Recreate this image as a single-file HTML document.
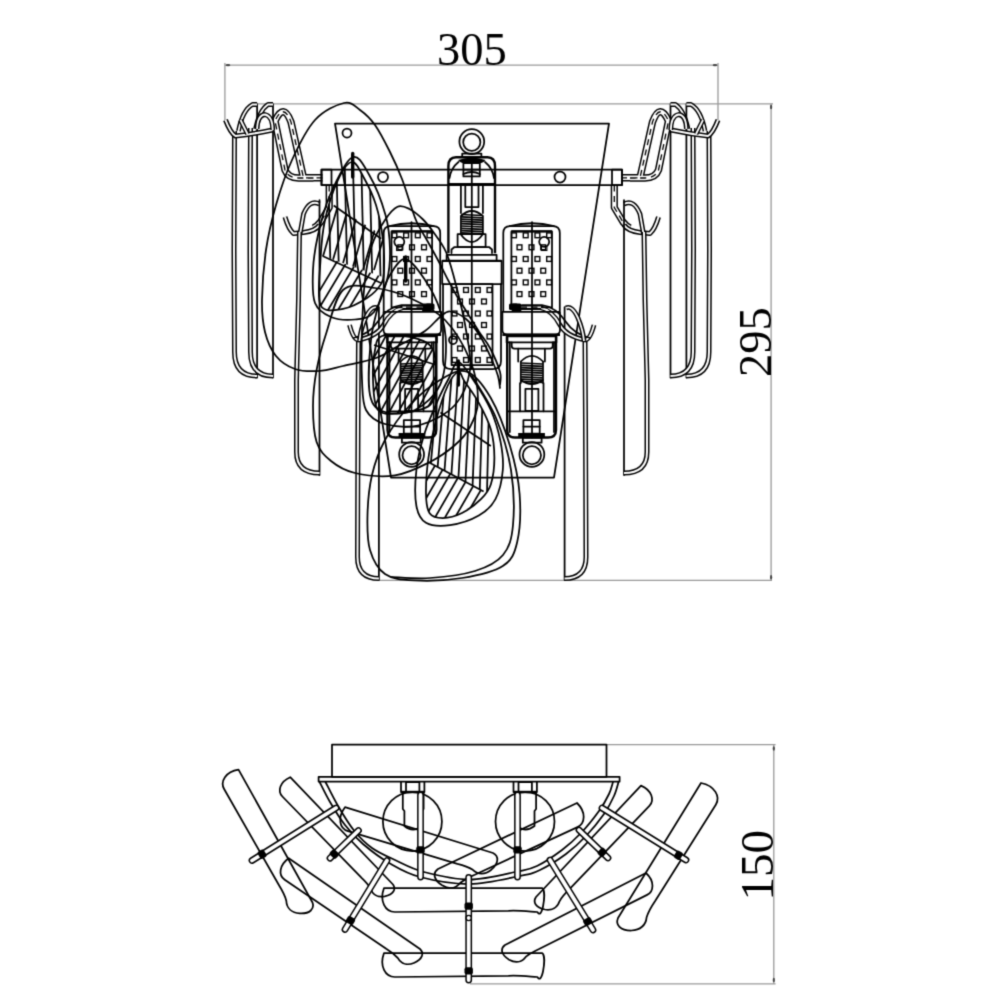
<!DOCTYPE html>
<html><head><meta charset="utf-8"><title>Wall lamp drawing</title>
<style>
html,body{margin:0;padding:0;background:#fff;}
svg{display:block;}
.k{fill:none;stroke:#000;stroke-width:1.75;stroke-linejoin:round;stroke-linecap:round;}
.kt{fill:none;stroke:#000;stroke-width:1.1;}
.kb{fill:none;stroke:#000;stroke-width:2.4;}
.g{fill:none;stroke:#999;stroke-width:1.3;}
.tb{fill:none;stroke:#000;stroke-linecap:butt;stroke-linejoin:round;}
.tw{fill:none;stroke:#fff;stroke-linecap:butt;stroke-linejoin:round;}
.td{fill:none;stroke:#000;stroke-width:1.3;stroke-dasharray:6 4.5;}
.fk{fill:#000;stroke:none;}
.ks{fill:none;stroke:#000;stroke-width:1.4;}
.km{fill:none;stroke:#000;stroke-width:1.75;}
.kh{fill:none;stroke:#000;stroke-width:1.75;}
.pin{fill:none;stroke:#000;stroke-width:3.4;stroke-linecap:round;}
.kc{fill:none;stroke:#000;stroke-width:1.75;stroke-linejoin:round;}
.rb{stroke:#000;stroke-width:6.8;stroke-linecap:round;}
.rw{stroke:#fff;stroke-width:3.8;stroke-linecap:round;}
.fw{fill:#fff;stroke:#000;stroke-width:1.3;}
text{font-family:"Liberation Serif",serif;fill:#000;}
</style></head><body>
<svg width="1000" height="1000" viewBox="0 0 1000 1000">
<defs><filter id="soft" x="0" y="0" width="1000" height="1000" filterUnits="userSpaceOnUse" color-interpolation-filters="sRGB"><feConvolveMatrix order="3" kernelMatrix="1 5 1 5 22 5 1 5 1" divisor="46" edgeMode="duplicate"/></filter></defs>
<g filter="url(#soft)">
<rect x="0" y="0" width="1000" height="1000" fill="#fff"/>
<line class="g" x1="224.9" y1="65.2" x2="718" y2="65.2"/>
<line class="g" x1="224.9" y1="63" x2="224.9" y2="120"/>
<line class="g" x1="718" y1="63" x2="718" y2="120"/>
<line class="g" x1="257" y1="103.8" x2="773" y2="103.8"/>
<line class="g" x1="771.1" y1="103.8" x2="771.1" y2="580.3"/>
<line class="g" x1="379" y1="580.3" x2="772" y2="580.3"/>
<text x="437" y="65.2" font-size="46.5">305</text>
<text transform="translate(770.5,377) rotate(-90)" font-size="46.5">295</text>
<line class="g" x1="606" y1="744.6" x2="775.6" y2="744.6"/>
<line class="g" x1="773.8" y1="744.6" x2="773.8" y2="983.8"/>
<line class="g" x1="470" y1="983.8" x2="775.6" y2="983.8"/>
<text transform="translate(772.5,900.5) rotate(-90)" font-size="47">150</text>
<ellipse cx="228" cy="65.2" rx="2.3" ry="1.1" fill="#444"/>
<ellipse cx="715" cy="65.2" rx="2.3" ry="1.1" fill="#444"/>
<ellipse cx="771.1" cy="107" rx="1.1" ry="2.3" fill="#444"/>
<ellipse cx="771.1" cy="577.3" rx="1.1" ry="2.3" fill="#444"/>
<ellipse cx="773.8" cy="748.5" rx="1.1" ry="2.3" fill="#444"/>
<ellipse cx="773.8" cy="980" rx="1.1" ry="2.3" fill="#444"/>
<path class="k" d="M335,123.5 L609,123.5 L554,477.5 L391,477.5 Z" />
<circle class="k" cx="347" cy="133" r="4.5"/>
<g id="sideR">
<path class="tb" d="M621,177.8 L640,177.8 L652.5,122 Q660,102 668.5,121 L658.5,170 Q655.5,178 645,178 L630,178" style="stroke-width:7.4"/>
<path class="tw" d="M621,177.8 L640,177.8 L652.5,122 Q660,102 668.5,121 L658.5,170 Q655.5,178 645,178 L630,178" style="stroke-width:4.4"/>
<path class="td" d="M621,177.8 L640,177.8 L652.5,122 Q660,102 668.5,121 L658.5,170 Q655.5,178 645,178 L630,178"/>
<path class="tb" d="M614.3,185.5 L614.3,207.5 L623,222 Q626,226 630,228" style="stroke-width:7.2"/>
<path class="tw" d="M614.3,185.5 L614.3,207.5 L623,222 Q626,226 630,228" style="stroke-width:4.2"/>
<path class="td" d="M614.3,185.5 L614.3,207.5 L623,222 Q626,226 630,228"/>
<path class="tb" d="M624,225 Q628,231 640,232.5 L650,233.5 Q655,229 658.5,217" style="stroke-width:5.0"/>
<path class="tw" d="M624,225 Q628,231 640,232.5 L650,233.5 Q655,229 658.5,217" style="stroke-width:2.0"/>
<path class="tb" d="M624,204 Q634,199 640,214 L643.5,234" style="stroke-width:4.8"/>
<path class="tw" d="M624,204 Q634,199 640,214 L643.5,234" style="stroke-width:1.7999999999999998"/>
<line class="k" x1="670.5" y1="104" x2="670.5" y2="377.6"/>
<line class="k" x1="686.4" y1="104" x2="686.4" y2="377.6"/>
<path class="tb" d="M693,128 L693.5,250 L693,352 Q693,376 670.5,376" style="stroke-width:5.0"/>
<path class="tw" d="M693,128 L693.5,250 L693,352 Q693,376 670.5,376" style="stroke-width:2.0"/>
<path class="tb" d="M709,131 L709.5,250 L709,352 Q709,376 686.4,376" style="stroke-width:5.0"/>
<path class="tw" d="M709,131 L709.5,250 L709,352 Q709,376 686.4,376" style="stroke-width:2.0"/>
<path class="tb" d="M670.5,104.5 L675.5,104.5 Q684,110 688,129" style="stroke-width:4.8"/>
<path class="tw" d="M670.5,104.5 L675.5,104.5 Q684,110 688,129" style="stroke-width:1.7999999999999998"/>
<path class="tb" d="M686.4,104.5 L691,104.5 Q701,110 705,131" style="stroke-width:4.8"/>
<path class="tw" d="M686.4,104.5 L691,104.5 Q701,110 705,131" style="stroke-width:1.7999999999999998"/>
<path class="tb" d="M671,130 Q690,134 708,136 Q713,133 718,120" style="stroke-width:5.0"/>
<path class="tw" d="M671,130 Q690,134 708,136 Q713,133 718,120" style="stroke-width:2.0"/>
<path class="tb" d="M670.8,130 Q671,116 678.5,114.5 Q686,115 686.4,129" style="stroke-width:4.8"/>
<path class="tw" d="M670.8,130 Q671,116 678.5,114.5 Q686,115 686.4,129" style="stroke-width:1.7999999999999998"/>
<path class="tb" d="M696,134 L703,120" style="stroke-width:4.8"/>
<path class="tw" d="M696,134 L703,120" style="stroke-width:1.7999999999999998"/>
<line class="k" x1="624" y1="200" x2="624" y2="475"/>
<path class="tb" d="M644,232 L645,300 L647,380 L647,452 Q647,473 624,473" style="stroke-width:5.0"/>
<path class="tw" d="M644,232 L645,300 L647,380 L647,452 Q647,473 624,473" style="stroke-width:2.0"/>
<line class="k" x1="564.6" y1="307" x2="564.6" y2="580"/>
<path class="tb" d="M585,340 L585.5,420 L586,557 Q586,578.5 564.6,578.5" style="stroke-width:5.0"/>
<path class="tw" d="M585,340 L585.5,420 L586,557 Q586,578.5 564.6,578.5" style="stroke-width:2.0"/>
<path class="tb" d="M520,307.5 L540,307.5 Q552,310 560,325 Q566,336 585,340 Q590,340 594,325" style="stroke-width:4.8"/>
<path class="tw" d="M520,307.5 L540,307.5 Q552,310 560,325 Q566,336 585,340 Q590,340 594,325" style="stroke-width:1.7999999999999998"/>
<path class="k" d="M522,305 L542,305 Q556,307 566,322 Q574,334 590,338" />
<rect class="fk" x="509" y="303.5" width="9" height="6.5" rx="1.5"/>
<path class="tb" d="M566,308 Q572,305 578,318 Q583,330 584,341" style="stroke-width:4.8"/>
<path class="tw" d="M566,308 Q572,305 578,318 Q583,330 584,341" style="stroke-width:1.7999999999999998"/>
</g>
<g transform="translate(943.5,0) scale(-1,1)">
<path class="tb" d="M621,177.8 L640,177.8 L652.5,122 Q660,102 668.5,121 L658.5,170 Q655.5,178 645,178 L630,178" style="stroke-width:7.4"/>
<path class="tw" d="M621,177.8 L640,177.8 L652.5,122 Q660,102 668.5,121 L658.5,170 Q655.5,178 645,178 L630,178" style="stroke-width:4.4"/>
<path class="td" d="M621,177.8 L640,177.8 L652.5,122 Q660,102 668.5,121 L658.5,170 Q655.5,178 645,178 L630,178"/>
<path class="tb" d="M614.3,185.5 L614.3,207.5 L623,222 Q626,226 630,228" style="stroke-width:7.2"/>
<path class="tw" d="M614.3,185.5 L614.3,207.5 L623,222 Q626,226 630,228" style="stroke-width:4.2"/>
<path class="td" d="M614.3,185.5 L614.3,207.5 L623,222 Q626,226 630,228"/>
<path class="tb" d="M624,225 Q628,231 640,232.5 L650,233.5 Q655,229 658.5,217" style="stroke-width:5.0"/>
<path class="tw" d="M624,225 Q628,231 640,232.5 L650,233.5 Q655,229 658.5,217" style="stroke-width:2.0"/>
<path class="tb" d="M624,204 Q634,199 640,214 L643.5,234" style="stroke-width:4.8"/>
<path class="tw" d="M624,204 Q634,199 640,214 L643.5,234" style="stroke-width:1.7999999999999998"/>
<line class="k" x1="670.5" y1="104" x2="670.5" y2="377.6"/>
<line class="k" x1="686.4" y1="104" x2="686.4" y2="377.6"/>
<path class="tb" d="M693,128 L693.5,250 L693,352 Q693,376 670.5,376" style="stroke-width:5.0"/>
<path class="tw" d="M693,128 L693.5,250 L693,352 Q693,376 670.5,376" style="stroke-width:2.0"/>
<path class="tb" d="M709,131 L709.5,250 L709,352 Q709,376 686.4,376" style="stroke-width:5.0"/>
<path class="tw" d="M709,131 L709.5,250 L709,352 Q709,376 686.4,376" style="stroke-width:2.0"/>
<path class="tb" d="M670.5,104.5 L675.5,104.5 Q684,110 688,129" style="stroke-width:4.8"/>
<path class="tw" d="M670.5,104.5 L675.5,104.5 Q684,110 688,129" style="stroke-width:1.7999999999999998"/>
<path class="tb" d="M686.4,104.5 L691,104.5 Q701,110 705,131" style="stroke-width:4.8"/>
<path class="tw" d="M686.4,104.5 L691,104.5 Q701,110 705,131" style="stroke-width:1.7999999999999998"/>
<path class="tb" d="M671,130 Q690,134 708,136 Q713,133 718,120" style="stroke-width:5.0"/>
<path class="tw" d="M671,130 Q690,134 708,136 Q713,133 718,120" style="stroke-width:2.0"/>
<path class="tb" d="M670.8,130 Q671,116 678.5,114.5 Q686,115 686.4,129" style="stroke-width:4.8"/>
<path class="tw" d="M670.8,130 Q671,116 678.5,114.5 Q686,115 686.4,129" style="stroke-width:1.7999999999999998"/>
<path class="tb" d="M696,134 L703,120" style="stroke-width:4.8"/>
<path class="tw" d="M696,134 L703,120" style="stroke-width:1.7999999999999998"/>
<line class="k" x1="624" y1="200" x2="624" y2="475"/>
<path class="tb" d="M644,232 L645,300 L647,380 L647,452 Q647,473 624,473" style="stroke-width:5.0"/>
<path class="tw" d="M644,232 L645,300 L647,380 L647,452 Q647,473 624,473" style="stroke-width:2.0"/>
<line class="k" x1="564.6" y1="307" x2="564.6" y2="580"/>
<path class="tb" d="M585,340 L585.5,420 L586,557 Q586,578.5 564.6,578.5" style="stroke-width:5.0"/>
<path class="tw" d="M585,340 L585.5,420 L586,557 Q586,578.5 564.6,578.5" style="stroke-width:2.0"/>
<path class="tb" d="M520,307.5 L540,307.5 Q552,310 560,325 Q566,336 585,340 Q590,340 594,325" style="stroke-width:4.8"/>
<path class="tw" d="M520,307.5 L540,307.5 Q552,310 560,325 Q566,336 585,340 Q590,340 594,325" style="stroke-width:1.7999999999999998"/>
<path class="k" d="M522,305 L542,305 Q556,307 566,322 Q574,334 590,338" />
<rect class="fk" x="509" y="303.5" width="9" height="6.5" rx="1.5"/>
<path class="tb" d="M566,308 Q572,305 578,318 Q583,330 584,341" style="stroke-width:4.8"/>
<path class="tw" d="M566,308 Q572,305 578,318 Q583,330 584,341" style="stroke-width:1.7999999999999998"/>
</g>
<rect class="k" x="321.5" y="169.5" width="300.5" height="15.5"/>
<rect class="k" x="321.5" y="169.5" width="10" height="15.5"/>
<rect class="k" x="612" y="169.5" width="10" height="15.5"/>
<circle class="k" cx="383" cy="177" r="5"/>
<circle class="k" cx="560" cy="177" r="5.5"/>
<circle class="k" cx="471.8" cy="141.6" r="12.4"/>
<circle class="k" cx="471.8" cy="142.2" r="8.6"/>
<rect class="k" x="462.2" y="153.6" width="19.2" height="3.4"/>
<path class="kb" d="M448.4,253.2 L448.4,166 Q448.4,157.2 456,157.2 L487.5,157.2 Q495,157.2 495,166 L495,253.2" />
<path class="fk" d="M458.2,160 Q471.8,155 485.4,160 Q484,164 471.8,164 Q459.6,164 458.2,160Z"/>
<path class="k" d="M458.5,162 Q451,168 449.5,178 M485,162 Q492.5,168 494,178" />
<rect class="k" x="463.4" y="163" width="16.4" height="13.4"/>
<line class="k" x1="463.4" y1="169.5" x2="479.8" y2="169.5"/>
<line class="k" x1="471.8" y1="163" x2="471.8" y2="176.4"/>
<path class="k" d="M463.4,174 Q471.8,170 479.8,174" />
<line class="kb" x1="448.4" y1="184.3" x2="495" y2="184.3"/>
<line class="k" x1="460.9" y1="185" x2="460.9" y2="213"/>
<line class="k" x1="482.9" y1="185" x2="482.9" y2="213"/>
<rect class="k" x="465.3" y="185" width="13.2" height="22"/>
<path class="k" d="M460.9,234 L460.9,216 Q471.8,206 482.9,216 L482.9,234" />
<line class="kc" x1="461.3" y1="214.5" x2="482.5" y2="215.5"/>
<line class="kc" x1="461.3" y1="216.8" x2="482.5" y2="217.8"/>
<line class="kc" x1="461.3" y1="219.1" x2="482.5" y2="220.1"/>
<line class="kc" x1="461.3" y1="221.4" x2="482.5" y2="222.4"/>
<line class="kc" x1="461.3" y1="223.7" x2="482.5" y2="224.7"/>
<line class="kc" x1="461.3" y1="226" x2="482.5" y2="227"/>
<line class="kc" x1="461.3" y1="228.3" x2="482.5" y2="229.3"/>
<line class="kc" x1="461.3" y1="230.6" x2="482.5" y2="231.6"/>
<line class="kc" x1="461.3" y1="232.9" x2="482.5" y2="233.9"/>
<rect class="k" x="457.6" y="234" width="28" height="13"/>
<path class="k" d="M460.5,234 Q471.8,250 483,234" />
<path class="k" d="M451.5,253 L451.5,249.5 L454.5,247 L489,247 L492,249.5 L492,253" />
<rect class="k" x="446.6" y="254.8" width="50" height="6.1"/>
<line class="kb" x1="442.2" y1="260.9" x2="501.6" y2="260.9"/>
<rect class="k" x="442.2" y="260.9" width="59.4" height="23.1"/>
<path class="k" d="M443,284 L443,361 Q443,369 451,369 L493,369 Q501,369 501,361 L501,284" />
<rect class="k" x="451.5" y="284" width="41" height="81"/>
<rect class="ks" x="452.1" y="287.6" width="4.8" height="4.8"/>
<rect class="ks" x="463.6" y="287.6" width="4.8" height="4.8"/>
<rect class="ks" x="475.4" y="287.6" width="4.8" height="4.8"/>
<rect class="ks" x="487.1" y="287.6" width="4.8" height="4.8"/>
<rect class="ks" x="457.6" y="299.1" width="4.8" height="4.8"/>
<rect class="ks" x="469.6" y="299.1" width="4.8" height="4.8"/>
<rect class="ks" x="481.6" y="299.1" width="4.8" height="4.8"/>
<rect class="ks" x="452.1" y="311.1" width="4.8" height="4.8"/>
<rect class="ks" x="463.6" y="311.1" width="4.8" height="4.8"/>
<rect class="ks" x="475.4" y="311.1" width="4.8" height="4.8"/>
<rect class="ks" x="487.1" y="311.1" width="4.8" height="4.8"/>
<rect class="ks" x="457.6" y="322.6" width="4.8" height="4.8"/>
<rect class="ks" x="469.6" y="322.6" width="4.8" height="4.8"/>
<rect class="ks" x="481.6" y="322.6" width="4.8" height="4.8"/>
<rect class="ks" x="452.1" y="334.1" width="4.8" height="4.8"/>
<rect class="ks" x="463.6" y="334.1" width="4.8" height="4.8"/>
<rect class="ks" x="475.4" y="334.1" width="4.8" height="4.8"/>
<rect class="ks" x="487.1" y="334.1" width="4.8" height="4.8"/>
<rect class="ks" x="457.6" y="346.1" width="4.8" height="4.8"/>
<rect class="ks" x="469.6" y="346.1" width="4.8" height="4.8"/>
<rect class="ks" x="481.6" y="346.1" width="4.8" height="4.8"/>
<rect class="ks" x="452.1" y="357.6" width="4.8" height="4.8"/>
<rect class="ks" x="463.6" y="357.6" width="4.8" height="4.8"/>
<rect class="ks" x="475.4" y="357.6" width="4.8" height="4.8"/>
<rect class="ks" x="487.1" y="357.6" width="4.8" height="4.8"/>
<circle class="k" cx="453" cy="340" r="4"/>
<line class="k" x1="471.8" y1="176.4" x2="471.8" y2="369"/>
<g>
<path class="km" d="M503.3,311 L503.3,233 Q503.3,226 510,226 L553,226 Q559.8,226 559.8,233 L559.8,311" />
<path class="k" d="M509.8,226 Q531.9,220.5 554,226" />
<rect class="k" x="511.4" y="231.4" width="40.6" height="76"/>
<line class="kb" x1="511.4" y1="231.4" x2="552" y2="231.4"/>
<rect class="ks" x="511.6" y="232.9" width="4.8" height="4.8"/>
<rect class="ks" x="523.3" y="232.9" width="4.8" height="4.8"/>
<rect class="ks" x="535" y="232.9" width="4.8" height="4.8"/>
<rect class="ks" x="546.7" y="232.9" width="4.8" height="4.8"/>
<rect class="ks" x="517.1" y="244.9" width="4.8" height="4.8"/>
<rect class="ks" x="529.1" y="244.9" width="4.8" height="4.8"/>
<rect class="ks" x="540.8" y="244.9" width="4.8" height="4.8"/>
<rect class="ks" x="511.6" y="256.6" width="4.8" height="4.8"/>
<rect class="ks" x="523.3" y="256.6" width="4.8" height="4.8"/>
<rect class="ks" x="535" y="256.6" width="4.8" height="4.8"/>
<rect class="ks" x="546.7" y="256.6" width="4.8" height="4.8"/>
<rect class="ks" x="517.1" y="268.3" width="4.8" height="4.8"/>
<rect class="ks" x="529.1" y="268.3" width="4.8" height="4.8"/>
<rect class="ks" x="540.8" y="268.3" width="4.8" height="4.8"/>
<rect class="ks" x="511.6" y="280" width="4.8" height="4.8"/>
<rect class="ks" x="523.3" y="280" width="4.8" height="4.8"/>
<rect class="ks" x="535" y="280" width="4.8" height="4.8"/>
<rect class="ks" x="546.7" y="280" width="4.8" height="4.8"/>
<rect class="ks" x="517.1" y="291.7" width="4.8" height="4.8"/>
<rect class="ks" x="529.1" y="291.7" width="4.8" height="4.8"/>
<rect class="ks" x="540.8" y="291.7" width="4.8" height="4.8"/>
<circle class="k" cx="544.2" cy="241.8" r="5"/>
<rect class="kt" x="541.5" y="246.5" width="5.4" height="4"/>
<rect class="fk" x="511.4" y="303.4" width="10.2" height="8.4" rx="2"/>
<path class="tb" d="M521,307.2 L541,307.2" style="stroke-width:4.4"/>
<path class="tw" d="M521,307.2 L541,307.2" style="stroke-width:1.4000000000000004"/>
<path class="td" d="M521,307.2 L541,307.2"/>
<path class="k" d="M502.4,311.8 L560,311.8 L560,330 Q560,334.6 555,334.6 L507.5,334.6 Q502.4,334.6 502.4,330 Z" />
<line class="kb" x1="502.4" y1="334.8" x2="560" y2="334.8"/>
<path class="kb" d="M507.2,336 L507.2,430 Q507.2,437.5 515,437.5 L548,437.5 Q556,437.5 556,430 L556,336" />
<line class="k" x1="509.8" y1="342" x2="509.8" y2="432"/>
<line class="k" x1="554" y1="342" x2="554" y2="432"/>
<rect class="k" x="506.6" y="336.4" width="49.8" height="6"/>
<path class="k" d="M511.7,342.4 L511.7,346 Q511.7,348.5 514.5,348.5 L550,348.5 Q552.7,348.5 552.7,346 L552.7,342.4" />
<path class="k" d="M518.2,348.5 L518.2,361.5 M544.9,348.5 L544.9,361.5" />
<path class="k" d="M520.8,361.5 Q532,350 543,361.5" />
<path class="k" d="M520.8,383 L520.8,361.5 M543,383 L543,361.5" />
<line class="kc" x1="521.2" y1="363" x2="542.6" y2="364"/>
<line class="kc" x1="521.2" y1="365.3" x2="542.6" y2="366.3"/>
<line class="kc" x1="521.2" y1="367.6" x2="542.6" y2="368.6"/>
<line class="kc" x1="521.2" y1="369.9" x2="542.6" y2="370.9"/>
<line class="kc" x1="521.2" y1="372.2" x2="542.6" y2="373.2"/>
<line class="kc" x1="521.2" y1="374.5" x2="542.6" y2="375.5"/>
<line class="kc" x1="521.2" y1="376.8" x2="542.6" y2="377.8"/>
<line class="kc" x1="521.2" y1="379.1" x2="542.6" y2="380.1"/>
<line class="kc" x1="521.2" y1="381.4" x2="542.6" y2="382.4"/>
<path class="k" d="M520.8,380 Q532,388 543,380" />
<line class="k" x1="520" y1="383" x2="520" y2="411.3"/>
<line class="k" x1="543.5" y1="383" x2="543.5" y2="411.3"/>
<rect class="k" x="525.4" y="388.8" width="13" height="22.1"/>
<line class="k" x1="507.2" y1="411.3" x2="556" y2="411.3"/>
<rect class="k" x="523.4" y="420" width="16.3" height="13.6"/>
<line class="k" x1="523.4" y1="426.5" x2="539.7" y2="426.5"/>
<rect class="fk" x="518.2" y="433" width="26.7" height="4.5"/>
<rect class="k" x="522.8" y="437.5" width="18.8" height="5.2"/>
<circle class="k" cx="531.9" cy="454.4" r="12.4"/>
<circle class="k" cx="531.9" cy="455.2" r="9.1"/>
<line class="k" x1="532" y1="222" x2="532" y2="437.5"/>
</g>
<g transform="translate(943.5,0) scale(-1,1)">
<path class="km" d="M503.3,311 L503.3,233 Q503.3,226 510,226 L553,226 Q559.8,226 559.8,233 L559.8,311" />
<path class="k" d="M509.8,226 Q531.9,220.5 554,226" />
<rect class="k" x="511.4" y="231.4" width="40.6" height="76"/>
<line class="kb" x1="511.4" y1="231.4" x2="552" y2="231.4"/>
<rect class="ks" x="511.6" y="232.9" width="4.8" height="4.8"/>
<rect class="ks" x="523.3" y="232.9" width="4.8" height="4.8"/>
<rect class="ks" x="535" y="232.9" width="4.8" height="4.8"/>
<rect class="ks" x="546.7" y="232.9" width="4.8" height="4.8"/>
<rect class="ks" x="517.1" y="244.9" width="4.8" height="4.8"/>
<rect class="ks" x="529.1" y="244.9" width="4.8" height="4.8"/>
<rect class="ks" x="540.8" y="244.9" width="4.8" height="4.8"/>
<rect class="ks" x="511.6" y="256.6" width="4.8" height="4.8"/>
<rect class="ks" x="523.3" y="256.6" width="4.8" height="4.8"/>
<rect class="ks" x="535" y="256.6" width="4.8" height="4.8"/>
<rect class="ks" x="546.7" y="256.6" width="4.8" height="4.8"/>
<rect class="ks" x="517.1" y="268.3" width="4.8" height="4.8"/>
<rect class="ks" x="529.1" y="268.3" width="4.8" height="4.8"/>
<rect class="ks" x="540.8" y="268.3" width="4.8" height="4.8"/>
<rect class="ks" x="511.6" y="280" width="4.8" height="4.8"/>
<rect class="ks" x="523.3" y="280" width="4.8" height="4.8"/>
<rect class="ks" x="535" y="280" width="4.8" height="4.8"/>
<rect class="ks" x="546.7" y="280" width="4.8" height="4.8"/>
<rect class="ks" x="517.1" y="291.7" width="4.8" height="4.8"/>
<rect class="ks" x="529.1" y="291.7" width="4.8" height="4.8"/>
<rect class="ks" x="540.8" y="291.7" width="4.8" height="4.8"/>
<circle class="k" cx="544.2" cy="241.8" r="5"/>
<rect class="kt" x="541.5" y="246.5" width="5.4" height="4"/>
<rect class="fk" x="511.4" y="303.4" width="10.2" height="8.4" rx="2"/>
<path class="tb" d="M521,307.2 L541,307.2" style="stroke-width:4.4"/>
<path class="tw" d="M521,307.2 L541,307.2" style="stroke-width:1.4000000000000004"/>
<path class="td" d="M521,307.2 L541,307.2"/>
<path class="k" d="M502.4,311.8 L560,311.8 L560,330 Q560,334.6 555,334.6 L507.5,334.6 Q502.4,334.6 502.4,330 Z" />
<line class="kb" x1="502.4" y1="334.8" x2="560" y2="334.8"/>
<path class="kb" d="M507.2,336 L507.2,430 Q507.2,437.5 515,437.5 L548,437.5 Q556,437.5 556,430 L556,336" />
<line class="k" x1="509.8" y1="342" x2="509.8" y2="432"/>
<line class="k" x1="554" y1="342" x2="554" y2="432"/>
<rect class="k" x="506.6" y="336.4" width="49.8" height="6"/>
<path class="k" d="M511.7,342.4 L511.7,346 Q511.7,348.5 514.5,348.5 L550,348.5 Q552.7,348.5 552.7,346 L552.7,342.4" />
<path class="k" d="M518.2,348.5 L518.2,361.5 M544.9,348.5 L544.9,361.5" />
<path class="k" d="M520.8,361.5 Q532,350 543,361.5" />
<path class="k" d="M520.8,383 L520.8,361.5 M543,383 L543,361.5" />
<line class="kc" x1="521.2" y1="363" x2="542.6" y2="364"/>
<line class="kc" x1="521.2" y1="365.3" x2="542.6" y2="366.3"/>
<line class="kc" x1="521.2" y1="367.6" x2="542.6" y2="368.6"/>
<line class="kc" x1="521.2" y1="369.9" x2="542.6" y2="370.9"/>
<line class="kc" x1="521.2" y1="372.2" x2="542.6" y2="373.2"/>
<line class="kc" x1="521.2" y1="374.5" x2="542.6" y2="375.5"/>
<line class="kc" x1="521.2" y1="376.8" x2="542.6" y2="377.8"/>
<line class="kc" x1="521.2" y1="379.1" x2="542.6" y2="380.1"/>
<line class="kc" x1="521.2" y1="381.4" x2="542.6" y2="382.4"/>
<path class="k" d="M520.8,380 Q532,388 543,380" />
<line class="k" x1="520" y1="383" x2="520" y2="411.3"/>
<line class="k" x1="543.5" y1="383" x2="543.5" y2="411.3"/>
<rect class="k" x="525.4" y="388.8" width="13" height="22.1"/>
<line class="k" x1="507.2" y1="411.3" x2="556" y2="411.3"/>
<rect class="k" x="523.4" y="420" width="16.3" height="13.6"/>
<line class="k" x1="523.4" y1="426.5" x2="539.7" y2="426.5"/>
<rect class="fk" x="518.2" y="433" width="26.7" height="4.5"/>
<rect class="k" x="522.8" y="437.5" width="18.8" height="5.2"/>
<circle class="k" cx="531.9" cy="454.4" r="12.4"/>
<circle class="k" cx="531.9" cy="455.2" r="9.1"/>
<line class="k" x1="532" y1="222" x2="532" y2="437.5"/>
</g>
<path class="k" d="M500,385 C500,382.8 501.7,378.2 500,372 C498.3,365.8 493.5,354.7 490,348 C486.5,341.3 482.8,337.5 479,331.6 C475.2,325.7 470.5,318 467,312.4 C463.5,306.8 461.1,303.2 458,298 C454.9,292.8 451.7,286.8 448.6,281 C445.5,275.2 442.9,269.5 439.5,263 C436.1,256.5 431.8,248.8 428,242 C424.2,235.2 419.8,228.5 417,222.5 C414.2,216.5 413.5,213.2 411,206 C408.5,198.8 405.5,188 402,179 C398.5,170 394.5,161 390,152 C385.5,143 380,132 375,125 C370,118 365.2,113.7 360,110 C354.8,106.3 351.5,101.3 344,103 C336.5,104.7 323.7,110.5 315,120 C306.3,129.5 298.5,145.8 292,160 C285.5,174.2 280.3,190 276,205 C271.7,220 268.3,234.2 266,250 C263.7,265.8 262.2,286.3 262,300 C261.8,313.7 262.7,322.7 265,332 C267.3,341.3 271,349.8 276,356 C281,362.2 287.8,366.5 295,369 C302.2,371.5 311,371.5 319,371 C327,370.5 333.5,368.2 343,366 C352.5,363.8 366.5,361.5 376,358 C385.5,354.5 391.8,349.5 400,345 C408.2,340.5 418.3,335.7 425,331 C431.7,326.3 435.8,320.2 440,317 C444.2,313.8 445.7,311.2 450,311.5 C454.3,311.8 461,314.9 466,319 C471,323.1 475.7,329.2 480,336 C484.3,342.8 489,353.3 492,360 C495,366.7 496.7,371.3 498,376 C499.3,380.7 499.7,386 500,388" />
<path class="k" d="M352,157.5 C358.5,154.1 363.4,164.9 369,174.5 C374.6,184.1 382,202.4 385.5,215 C389,227.6 389.8,239.2 390,250 C390.2,260.8 389.7,269.7 387,280 C384.3,290.3 379.3,305.4 374,312 C368.7,318.6 362.2,318.7 355,319.5 C347.8,320.3 337.7,319.8 331,317 C324.3,314.2 318,310.8 315,303 C312,295.2 312.5,281.3 313,270 C313.5,258.7 315.2,247.5 318,235 C320.8,222.5 324.3,207.9 330,195 C335.7,182.1 345.5,160.9 352,157.5Z" />
<path class="k" d="M352,162 C356.3,161.7 360,170.8 364,178 C368,185.2 372.8,194.7 376,205 C379.2,215.3 381.7,229.2 383,240 C384.3,250.8 384.3,262.7 384,270 C383.7,277.3 384.1,278.9 381.3,283.6 C378.5,288.3 373.4,293.8 367,298 C360.6,302.2 350.8,307.6 343,308.8 C335.2,310 324.2,313.1 320.5,305 C316.8,296.9 319.8,274.2 320.5,260 C321.2,245.8 322.1,233.3 325,220 C327.9,206.7 333.5,189.7 338,180 C342.5,170.3 347.7,162.3 352,162Z" />
<clipPath id="h1a"><path d="M352,162 C356.3,161.7 360,170.8 364,178 C368,185.2 372.8,194.7 376,205 C379.2,215.3 381.7,229.2 383,240 C384.3,250.8 384.3,262.7 384,270 C383.7,277.3 384.1,278.9 381.3,283.6 C378.5,288.3 373.4,293.8 367,298 C360.6,302.2 350.8,307.6 343,308.8 C335.2,310 324.2,313.1 320.5,305 C316.8,296.9 319.8,274.2 320.5,260 C321.2,245.8 322.1,233.3 325,220 C327.9,206.7 333.5,189.7 338,180 C342.5,170.3 347.7,162.3 352,162Z"/></clipPath><clipPath id="h1b"><path d="M300,150 L400,150 L400,283 L322.6,256 L300,256 Z"/></clipPath>
<g clip-path="url(#h1a)"><g clip-path="url(#h1b)">
<line class="kh" x1="328" y1="160" x2="331" y2="290"/>
<line class="kh" x1="336.3" y1="160" x2="339.3" y2="290"/>
<line class="kh" x1="344.6" y1="160" x2="347.6" y2="290"/>
<line class="kh" x1="352.9" y1="160" x2="355.9" y2="290"/>
<line class="kh" x1="361.2" y1="160" x2="364.2" y2="290"/>
<line class="kh" x1="369.5" y1="160" x2="372.5" y2="290"/>
<line class="kh" x1="377.8" y1="160" x2="380.8" y2="290"/>
<line class="kh" x1="386.1" y1="160" x2="389.1" y2="290"/>
</g></g>
<clipPath id="h1m"><path d="M300,200 L333.7,205.5 L400,246 L400,283 L322.6,256 L300,256 Z"/></clipPath>
<g clip-path="url(#h1a)"><g clip-path="url(#h1m)">
<line class="kh" x1="308" y1="270" x2="330" y2="195"/>
<line class="kh" x1="319" y1="270" x2="341" y2="195"/>
<line class="kh" x1="330" y1="270" x2="352" y2="195"/>
<line class="kh" x1="341" y1="270" x2="363" y2="195"/>
<line class="kh" x1="352" y1="270" x2="374" y2="195"/>
<line class="kh" x1="363" y1="270" x2="385" y2="195"/>
<line class="kh" x1="374" y1="270" x2="396" y2="195"/>
</g></g>
<clipPath id="h1c"><path d="M300,256 L322.6,256 L400,283 L400,330 L300,330 Z"/></clipPath>
<g clip-path="url(#h1a)"><g clip-path="url(#h1c)">
<line class="kh" x1="296" y1="330" x2="344" y2="250"/>
<line class="kh" x1="306" y1="330" x2="354" y2="250"/>
<line class="kh" x1="316" y1="330" x2="364" y2="250"/>
<line class="kh" x1="326" y1="330" x2="374" y2="250"/>
<line class="kh" x1="336" y1="330" x2="384" y2="250"/>
<line class="kh" x1="346" y1="330" x2="394" y2="250"/>
<line class="kh" x1="356" y1="330" x2="404" y2="250"/>
<line class="kh" x1="366" y1="330" x2="414" y2="250"/>
<line class="kh" x1="376" y1="330" x2="424" y2="250"/>
<line class="kh" x1="386" y1="330" x2="434" y2="250"/>
</g></g>
<line class="kh" x1="322.6" y1="256" x2="381" y2="283"/>
<line class="kh" x1="333.7" y1="205.5" x2="381.2" y2="238.8"/>
<path class="pin" d="M352.7,153.5 L352.7,177"/>
<path class="k" d="M397.5,206.7 C401.6,204.9 405.2,206.9 409.5,209 C413.8,211.1 418.9,215.5 423,219.5 C427.1,223.5 430.2,227.6 434,233 C437.8,238.4 442.3,243.3 446,252 C449.7,260.7 452.7,272 456,285 C459.3,298 463.7,315.8 466,330 C468.3,344.2 471.8,357.5 470,370 C468.2,382.5 463.3,395.8 455,405 C446.7,414.2 431.7,421.8 420,425 C408.3,428.2 394,426.5 385,424 C376,421.5 369.8,417.3 366,410 C362.2,402.7 362.7,393.3 362,380 C361.3,366.7 361.5,346.7 362,330 C362.5,313.3 363.3,294.2 365,280 C366.7,265.8 368.7,255 372,245 C375.3,235 380.8,226.4 385,220 C389.2,213.6 393.4,208.5 397.5,206.7Z" />
<path class="k" d="M405.5,259 C411.3,259.8 419.2,271.5 425,280 C430.8,288.5 436.5,299.2 440,310 C443.5,320.8 446,332.5 446,345 C446,357.5 445.2,374.2 440,385 C434.8,395.8 424.2,405.5 415,410 C405.8,414.5 392.5,414.5 385,412 C377.5,409.5 372.3,407 370,395 C367.7,383 369.3,355.8 371,340 C372.7,324.2 376.8,310.8 380,300 C383.2,289.2 385.8,281.8 390,275 C394.2,268.2 399.7,258.2 405.5,259Z" />
<path class="pin" d="M405.7,257 L405.7,281"/>
<path class="k" d="M382,336 C387.8,333.8 401.7,335 410,337 C418.3,339 427.7,340.8 432,348 C436.3,355.2 436.3,370.5 436,380 C435.7,389.5 436,399.5 430,405 C424,410.5 408.7,412.2 400,413 C391.3,413.8 382.5,415.5 378,410 C373.5,404.5 373.5,390 373,380 C372.5,370 373.5,357.3 375,350 C376.5,342.7 376.2,338.2 382,336Z" />
<clipPath id="h3"><path d="M382,336 C387.8,333.8 401.7,335 410,337 C418.3,339 427.7,340.8 432,348 C436.3,355.2 436.3,370.5 436,380 C435.7,389.5 436,399.5 430,405 C424,410.5 408.7,412.2 400,413 C391.3,413.8 382.5,415.5 378,410 C373.5,404.5 373.5,390 373,380 C372.5,370 373.5,357.3 375,350 C376.5,342.7 376.2,338.2 382,336Z"/></clipPath>
<g clip-path="url(#h3)">
<line class="kh" x1="340" y1="420" x2="400" y2="310"/>
<line class="kh" x1="349" y1="420" x2="409" y2="310"/>
<line class="kh" x1="358" y1="420" x2="418" y2="310"/>
<line class="kh" x1="367" y1="420" x2="427" y2="310"/>
<line class="kh" x1="376" y1="420" x2="436" y2="310"/>
<line class="kh" x1="385" y1="420" x2="445" y2="310"/>
<line class="kh" x1="394" y1="420" x2="454" y2="310"/>
<line class="kh" x1="403" y1="420" x2="463" y2="310"/>
<line class="kh" x1="412" y1="420" x2="472" y2="310"/>
<line class="kh" x1="421" y1="420" x2="481" y2="310"/>
<line class="kh" x1="430" y1="420" x2="490" y2="310"/>
<line class="kh" x1="439" y1="420" x2="499" y2="310"/>
<line class="kh" x1="448" y1="420" x2="508" y2="310"/>
<line class="kh" x1="457" y1="420" x2="517" y2="310"/>
</g>
<line class="kh" x1="374" y1="345" x2="436" y2="365"/>
<path class="k" d="M343,290 C334.8,297.7 330.4,320.7 326,334 C321.6,347.3 318.8,358 316.6,370 C314.4,382 313,394 313,406 C313,418 313.6,432.8 316.6,442 C319.6,451.2 324.6,455.8 331,461 C337.4,466.2 344.3,470.6 355,473 C365.7,475.4 382.5,477.2 395,475.4 C407.5,473.6 420,467.1 430,462 C440,456.9 448.3,450.8 455,445 C461.7,439.2 466.2,434.5 470,427 C473.8,419.5 478,411.2 478,400 C478,388.8 475.5,373.3 470,360 C464.5,346.7 455,330.3 445,320 C435,309.7 421.7,303.3 410,298 C398.3,292.7 386.2,289.3 375,288 C363.8,286.7 351.2,282.3 343,290Z" />
<path class="k" d="M466.8,371.6 C475.3,374.6 483.6,385.6 490.8,398 C498,410.4 505.2,430 510,446 C514.8,462 518.4,478 519.6,494 C520.8,510 520,530 517.2,542 C514.4,554 512,560 502.8,566 C493.6,572 476.8,575.6 462,578 C447.2,580.4 426.8,581.1 414,580.4 C401.2,579.7 392.3,579.1 385,574 C377.7,568.9 372.9,559.8 370,550 C367.1,540.2 367.2,527.5 367.5,515 C367.8,502.5 369.1,487.5 372,475 C374.9,462.5 378.7,451.7 385,440 C391.3,428.3 400.8,415 410,405 C419.2,395 430.5,385.6 440,380 C449.5,374.4 458.3,368.6 466.8,371.6Z" />
<path class="k" d="M472,376 C476,383 489.5,402.3 496,418 C502.5,433.7 508.2,452.2 511,470 C513.8,487.8 514.3,510.8 513,525 C511.7,539.2 509.3,547.3 503,555 C496.7,562.7 487.2,567.2 475,571 C462.8,574.8 443.8,577 430,578 C416.2,579 398.3,577.2 392,577" />
<path class="k" d="M458.4,362 C462.6,362.5 468.6,373 474,381 C479.4,389 486.4,400 490.8,410 C495.2,420 498.4,431 500.4,441 C502.4,451 503.6,460.4 502.8,470 C502,479.6 499.6,491.2 495.6,498.8 C491.6,506.4 486.4,511.2 478.8,515.6 C471.2,520 458.8,524 450,525.2 C441.2,526.4 431.6,526 426,522.8 C420.4,519.6 418,514.8 416.4,506 C414.8,497.2 415.1,481.8 416.4,470 C417.7,458.2 420.4,446.7 424,435 C427.6,423.3 433.8,409.5 438,400 C442.2,390.5 445.6,384.3 449,378 C452.4,371.7 454.2,361.5 458.4,362Z" />
<path class="k" d="M458.4,372 C461.2,371.2 461,376.1 464.4,381.2 C467.8,386.3 474.4,394.8 478.8,402.8 C483.2,410.8 488.2,420 490.8,429.2 C493.4,438.4 494.4,448.8 494.4,458 C494.4,467.2 493,477.6 490.8,484.4 C488.6,491.2 486,494 481.2,498.8 C476.4,503.6 468.4,509.8 462,513 C455.6,516.2 448.2,518 442.8,518 C437.4,518 432.4,517.2 429.6,513.2 C426.8,509.2 426.2,503.2 426,494 C425.8,484.8 426.8,470 428.4,458 C430,446 432.4,434 435.6,422 C438.8,410 443.8,394.3 447.6,386 C451.4,377.7 455.6,372.8 458.4,372Z" />
<clipPath id="h2a"><path d="M458.4,372 C461.2,371.2 461,376.1 464.4,381.2 C467.8,386.3 474.4,394.8 478.8,402.8 C483.2,410.8 488.2,420 490.8,429.2 C493.4,438.4 494.4,448.8 494.4,458 C494.4,467.2 493,477.6 490.8,484.4 C488.6,491.2 486,494 481.2,498.8 C476.4,503.6 468.4,509.8 462,513 C455.6,516.2 448.2,518 442.8,518 C437.4,518 432.4,517.2 429.6,513.2 C426.8,509.2 426.2,503.2 426,494 C425.8,484.8 426.8,470 428.4,458 C430,446 432.4,434 435.6,422 C438.8,410 443.8,394.3 447.6,386 C451.4,377.7 455.6,372.8 458.4,372Z"/></clipPath>
<clipPath id="h2b"><path d="M400,360 L520,360 L520,493 L483.6,491.6 L429.6,462.8 L400,462.8 Z"/></clipPath>
<clipPath id="h2c"><path d="M400,462.8 L429.6,462.8 L483.6,491.6 L520,493 L520,540 L400,540 Z"/></clipPath>
<g clip-path="url(#h2a)"><g clip-path="url(#h2b)">
<line class="kh" x1="433" y1="372" x2="418" y2="520"/>
<line class="kh" x1="439.3" y1="372" x2="425.6" y2="520"/>
<line class="kh" x1="445.6" y1="372" x2="433.2" y2="520"/>
<line class="kh" x1="451.9" y1="372" x2="440.8" y2="520"/>
<line class="kh" x1="458.2" y1="372" x2="448.4" y2="520"/>
<line class="kh" x1="464.5" y1="372" x2="456" y2="520"/>
<line class="kh" x1="470.8" y1="372" x2="463.6" y2="520"/>
<line class="kh" x1="477.1" y1="372" x2="471.2" y2="520"/>
<line class="kh" x1="483.4" y1="372" x2="478.8" y2="520"/>
<line class="kh" x1="489.7" y1="372" x2="486.4" y2="520"/>
<line class="kh" x1="496" y1="372" x2="494" y2="520"/>
</g></g>
<g clip-path="url(#h2a)"><g clip-path="url(#h2c)">
<line class="kh" x1="392" y1="540" x2="444" y2="450"/>
<line class="kh" x1="402" y1="540" x2="454" y2="450"/>
<line class="kh" x1="412" y1="540" x2="464" y2="450"/>
<line class="kh" x1="422" y1="540" x2="474" y2="450"/>
<line class="kh" x1="432" y1="540" x2="484" y2="450"/>
<line class="kh" x1="442" y1="540" x2="494" y2="450"/>
<line class="kh" x1="452" y1="540" x2="504" y2="450"/>
<line class="kh" x1="462" y1="540" x2="514" y2="450"/>
<line class="kh" x1="472" y1="540" x2="524" y2="450"/>
<line class="kh" x1="482" y1="540" x2="534" y2="450"/>
</g></g>
<line class="kh" x1="440.4" y1="412.4" x2="490.8" y2="446"/>
<line class="kh" x1="429.6" y1="462.8" x2="483.6" y2="491.6"/>
<path class="pin" d="M458.4,361 L458.4,385"/>
<rect class="k" x="332" y="744.6" width="274.5" height="32.2"/>
<rect class="k" x="318.6" y="776.8" width="301" height="4.8"/>
<path class="k" d="M319.6,782 C321.3,785.3 325.8,794.8 330,802 C334.2,809.2 339.5,818 345,825 C350.5,832 355.5,837.6 363,844 C370.5,850.4 380.5,858 390,863.5 C399.5,869 406.8,873.6 420,877 C433.2,880.4 452.8,884.2 469.5,884 C486.2,883.8 508.2,878.3 520,876 C531.8,873.7 532.3,873.7 540,870 C547.7,866.3 558.3,859.7 566,854 C573.7,848.3 579.7,842.7 586,836 C592.3,829.3 599.3,820.7 604,814 C608.7,807.3 611.6,801.3 614,796 C616.4,790.7 617.8,784.3 618.5,782" />
<path class="k" d="M325.5,782 C327.5,785.8 332.8,796.9 337.5,805 C342.2,813.1 348.2,823.3 354,830.5 C359.8,837.7 365.2,843.1 372,848 C378.8,852.9 386.3,856 395,860 C403.7,864 411.6,868.8 424,872 C436.4,875.2 454,879.6 469.5,879.5 C485,879.4 505.8,873.8 517,871.5 C528.2,869.2 529.5,869.6 537,866 C544.5,862.4 554.7,855.5 562,850 C569.3,844.5 574.8,839.5 581,833 C587.2,826.5 594.3,817.5 599,811 C603.7,804.5 606.7,798.8 609,794 C611.3,789.2 612.3,784 613,782" />
<path class="kc" d="M345,807.2 L493,853 C499,856 499.1,863 491.3,869.7 C485.1,874.7 478.2,874.9 472.8,869.8 C469,867.4 465.9,866 457.4,863.9 L348,831.1 C339.5,828.5 337.2,817.5 345,807.2Z" />
<path class="kc" d="M577,803 L438,869 C432.5,872.8 433.4,879.7 442.1,885.3 C448.9,889.4 455.8,888.6 460.4,882.7 C463.9,879.9 466.6,878 474.8,874.7 L577.5,827.1 C585.4,823.3 586.2,812 577,803Z" />
<path class="kc" d="M384,888 L542,888 C544.2,889.2 544.9,896.4 543.1,906 C541.6,913.2 539.5,915.6 537.3,912 C521.6,910.8 518,910.3 508.4,910.8 L394.8,912 C385.2,912 379.2,901.2 384,888Z" />
<path class="kc" d="M384,953 L542,953 C544.2,954.2 544.9,961.4 543.1,971 C541.6,978.2 539.5,980.6 537.3,977 C521.6,975.8 518,975.3 508.4,975.8 L394.8,977 C385.2,977 379.2,966.2 384,953Z" />
<path class="kc" d="M238.5,769.6 L312.5,902.5 C314.7,908.8 310.1,913.9 299.7,913.4 C291.8,912.8 286.6,908.1 286.3,900.7 C285.1,896.3 283.9,893.2 279.3,885.8 L224.1,789 C219.8,781.3 225.8,771.6 238.5,769.6Z" />
<path class="kc" d="M290.2,777.2 L393,884.5 C396.3,889.3 393.5,894.6 384.7,896.4 C377.9,897.6 372.6,894.8 370.7,888.7 C368.8,885.3 367.1,883 361.6,877.8 L282.4,796.5 C277.1,791 280,781.7 290.2,777.2Z" />
<path class="kc" d="M288.7,858.2 L420,949 C424.4,953.2 422.6,959.3 413.9,963 C407.2,965.7 401.2,963.9 397.9,958.1 C395.2,955 393,952.9 386.2,948.7 L284.7,879.8 C278.1,875.2 279.2,865 288.7,858.2Z" />
<path class="kc" d="M701,783 L618,918 C615.3,924.8 620.1,930.6 631.4,930.5 C640.1,930.2 645.9,925.3 646.6,917.3 C648.1,912.6 649.6,909.2 655,901.3 L715.8,804.8 C720.8,796.6 714.8,785.8 701,783Z" />
<path class="kc" d="M641,785.6 L536,897 C532.6,902.1 535.6,907.6 544.9,909.5 C552,910.7 557.5,907.7 559.5,901.3 C561.5,897.7 563.3,895.2 569,889.7 L649.4,805.9 C654.9,800 651.7,790.2 641,785.6Z" />
<path class="kc" d="M646,873 L505,945 C500.1,948.6 501.1,954.9 509.1,959.7 C515.4,963.2 521.7,962.3 525.7,956.9 C528.8,954.2 531.3,952.5 538.6,949.2 L647.1,894.9 C654.2,891.3 654.6,881 646,873Z" />
<line class="rb" x1="336" y1="808" x2="252" y2="860.5"/>
<line class="rw" x1="336" y1="808" x2="252" y2="860.5"/>
<rect class="fk" x="-3.6" y="-4.2" width="7.2" height="8.4" rx="2" transform="translate(262.1,854.2) rotate(148)"/>
<line class="rb" x1="358.5" y1="830.5" x2="330" y2="858.2"/>
<line class="rw" x1="358.5" y1="830.5" x2="330" y2="858.2"/>
<rect class="fk" x="-3.6" y="-4.2" width="7.2" height="8.4" rx="2" transform="translate(334.3,854) rotate(135.8)"/>
<line class="rb" x1="387" y1="860.5" x2="345" y2="929.5"/>
<line class="rw" x1="387" y1="860.5" x2="345" y2="929.5"/>
<rect class="fk" x="-3.6" y="-4.2" width="7.2" height="8.4" rx="2" transform="translate(350.5,920.5) rotate(121.3)"/>
<line class="rb" x1="602" y1="808" x2="686" y2="860"/>
<line class="rw" x1="602" y1="808" x2="686" y2="860"/>
<rect class="fk" x="-3.6" y="-4.2" width="7.2" height="8.4" rx="2" transform="translate(678.4,855.3) rotate(31.8)"/>
<line class="rb" x1="579" y1="830" x2="608" y2="858"/>
<line class="rw" x1="579" y1="830" x2="608" y2="858"/>
<rect class="fk" x="-3.6" y="-4.2" width="7.2" height="8.4" rx="2" transform="translate(602.2,852.4) rotate(44)"/>
<line class="rb" x1="550" y1="860" x2="593" y2="930"/>
<line class="rw" x1="550" y1="860" x2="593" y2="930"/>
<rect class="fk" x="-3.6" y="-4.2" width="7.2" height="8.4" rx="2" transform="translate(587.8,921.6) rotate(58.4)"/>
<line class="rb" x1="468.7" y1="877.5" x2="468.7" y2="980"/>
<line class="rw" x1="468.7" y1="877.5" x2="468.7" y2="980"/>
<rect class="fk" x="-3.6" y="-4.2" width="7.2" height="8.4" rx="2" transform="translate(468.7,906.2) rotate(90)"/>
<rect class="fk" x="-3.6" y="-4.2" width="7.2" height="8.4" rx="2" transform="translate(468.7,970.8) rotate(90)"/>
<circle cx="468.7" cy="918" r="2.6" fill="#fff" stroke="#000" stroke-width="1.4"/>
<path class="k" d="M401,782 L401,792 M424.4,782 L424.4,792"/>
<rect class="k" x="406" y="782" width="13.4" height="10"/>
<line class="kb" x1="401" y1="792" x2="424.4" y2="792"/>
<path class="k" d="M402.8,792 L402.8,809 L404.4,811 L404.4,826 Q413,833 422,826 L422,811 L423.6,809 L423.6,792"/>
<path class="k" d="M513.5,782 L513.5,792 M536.9,782 L536.9,792"/>
<rect class="k" x="518.5" y="782" width="13.4" height="10"/>
<line class="kb" x1="513.5" y1="792" x2="536.9" y2="792"/>
<path class="k" d="M515.3,792 L515.3,809 L516.9,811 L516.9,826 Q525.5,833 534.5,826 L534.5,811 L536.1,809 L536.1,792"/>
<circle class="k" cx="412.4" cy="821.5" r="29.5"/>
<circle class="k" cx="525" cy="821.5" r="29.5"/>
<line class="rb" x1="420.5" y1="795" x2="420.5" y2="877"/>
<line class="rw" x1="420.5" y1="795" x2="420.5" y2="877"/>
<rect class="fk" x="-3.6" y="-4.2" width="7.2" height="8.4" rx="2" transform="translate(420.5,849.9) rotate(90)"/>
<line class="rb" x1="517.5" y1="795" x2="517.5" y2="877"/>
<line class="rw" x1="517.5" y1="795" x2="517.5" y2="877"/>
<rect class="fk" x="-3.6" y="-4.2" width="7.2" height="8.4" rx="2" transform="translate(517.5,849.9) rotate(90)"/>
</g>
</svg>
</body></html>
